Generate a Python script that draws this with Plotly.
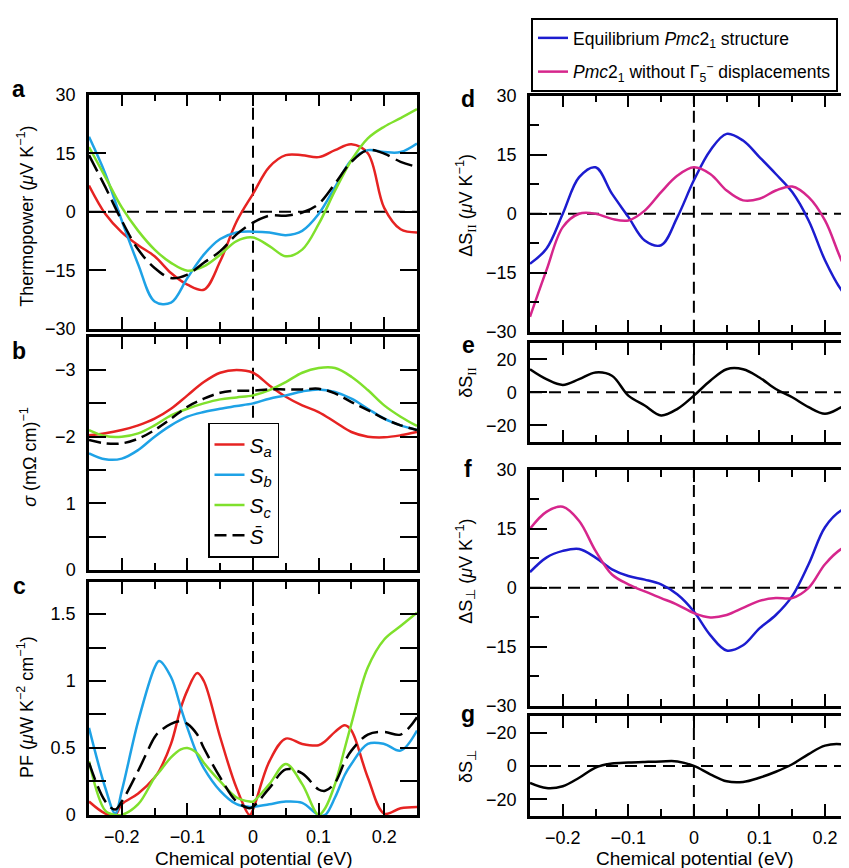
import plotly.graph_objects as go

# ---------------- data ----------------
mu = [-0.25, -0.225, -0.2, -0.175, -0.15, -0.125, -0.1, -0.075, -0.05, -0.025, 0.0,
      0.025, 0.05, 0.075, 0.1, 0.125, 0.15, 0.175, 0.2, 0.225, 0.25]

S_a = [6.7, -0.6, -5.3, -8.6, -11.4, -15.7, -18.7, -20.0, -12.7, -2.5, 4.6,
       11.5, 14.5, 14.5, 14.0, 15.8, 17.3, 15.0, 1.0, -4.5, -5.3]
S_b = [19.2, 9.7, -2.3, -13.5, -23.0, -23.3, -17.0, -11.0, -7.0, -5.3, -5.1,
       -5.3, -6.0, -4.9, -0.6, 6.3, 13.2, 15.8, 15.3, 15.3, 17.5]
S_c = [16.6, 8.9, 1.1, -4.9, -9.7, -13.1, -15.1, -14.0, -11.0, -7.5, -6.6,
       -8.8, -11.4, -9.7, -3.2, 5.4, 13.2, 18.8, 21.8, 24.0, 26.3]
S_avg = [14.5, 6.3, -2.3, -9.7, -14.4, -17.0, -16.1, -13.1, -10.1, -5.8, -2.8,
         -1.0, -1.0, -0.2, 2.0, 7.2, 12.8, 15.8, 14.9, 12.8, 11.5]

sig_a = [2.02, 2.05, 2.10, 2.17, 2.27, 2.42, 2.62, 2.82, 2.96, 3.00, 2.96,
         2.77, 2.60, 2.47, 2.37, 2.22, 2.07, 2.00, 1.99, 2.02, 2.07]
sig_b = [1.75, 1.66, 1.67, 1.80, 2.00, 2.17, 2.30, 2.37, 2.42, 2.46, 2.50,
         2.57, 2.62, 2.68, 2.71, 2.67, 2.57, 2.42, 2.27, 2.17, 2.10]
sig_c = [2.10, 2.01, 2.00, 2.05, 2.17, 2.32, 2.42, 2.50, 2.56, 2.59, 2.62,
         2.70, 2.82, 2.96, 3.03, 3.03, 2.90, 2.70, 2.47, 2.30, 2.16]
sig_avg = [1.95, 1.90, 1.90, 1.97, 2.10, 2.27, 2.45, 2.57, 2.66, 2.69, 2.69,
           2.71, 2.71, 2.71, 2.72, 2.65, 2.52, 2.40, 2.27, 2.17, 2.10]

mu_c = [-0.25, -0.225, -0.21, -0.2, -0.175, -0.15, -0.143, -0.125, -0.11, -0.1, -0.085,
        -0.075, -0.05, -0.025, -0.005, 0.0, 0.025, 0.05, 0.075, 0.1, 0.11, 0.125,
        0.14, 0.15, 0.175, 0.2, 0.225, 0.25]
PF_a = [0.10, 0.01, 0.0, 0.08, 0.16, 0.28, 0.33, 0.53, 0.80, 0.93, 1.06,
        1.00, 0.58, 0.20, 0.0, 0.04, 0.40, 0.57, 0.53, 0.52, 0.55, 0.62,
        0.67, 0.63, 0.28, 0.01, 0.05, 0.06]
PF_b = [0.65, 0.20, 0.01, 0.18, 0.70, 1.10, 1.15, 1.03, 0.80, 0.65, 0.45,
        0.35, 0.18, 0.08, 0.06, 0.06, 0.08, 0.10, 0.09, 0.0, 0.0, 0.13,
        0.30, 0.38, 0.53, 0.53, 0.48, 0.63]
PF_c = [0.40, 0.03, 0.0, 0.0, 0.08, 0.28, 0.32, 0.43, 0.49, 0.50, 0.46,
        0.39, 0.25, 0.13, 0.10, 0.10, 0.23, 0.38, 0.23, 0.0, 0.05, 0.23,
        0.50, 0.68, 1.10, 1.31, 1.41, 1.51]
PF_avg = [0.39, 0.10, 0.04, 0.10, 0.33, 0.58, 0.62, 0.68, 0.70, 0.68, 0.60,
          0.50, 0.28, 0.10, 0.05, 0.06, 0.20, 0.34, 0.31, 0.19, 0.18, 0.24,
          0.40, 0.48, 0.60, 0.62, 0.60, 0.73]

dSpar_eq = [-12.7, -8.9, 0.0, 9.3, 11.8, 5.1, -0.8, -6.8, -8.0, -0.8, 8.5,
            16.1, 20.3, 18.6, 14.4, 10.1, 5.5, -1.7, -11.8, -19.4, -24.0]
dSpar_no = [-26.2, -14.4, -3.4, 0.0, 0.0, -1.3, -1.7, 0.8, 5.5, 9.7, 11.8,
            10.1, 5.9, 3.4, 3.8, 5.9, 6.9, 4.2, -1.7, -11.8, -20.0]
dpar = [14, 8, 4.5, 8, 12, 10, -2, -8, -14, -10, -2,
        7, 14, 14, 9, 2, -3, -9, -13, -9, -4]
dSperp_eq = [4.0, 7.7, 9.4, 9.9, 7.7, 4.7, 3.0, 2.1, 0.9, -1.7, -6.0,
             -12.0, -15.9, -14.6, -10.3, -6.9, -2.1, 6.0, 15.4, 19.7, 21.0]
dSperp_no = [15.0, 19.3, 20.6, 17.0, 9.4, 3.4, 0.9, -0.9, -2.6, -4.3, -6.4,
             -7.5, -6.9, -5.1, -3.3, -2.6, -2.6, 0.0, 6.0, 9.9, 11.5]
dperp = [-10.2, -13.3, -12.2, -7.1, -1.0, 1.4, 2.0, 2.4, 2.7, 2.7, 0.0,
         -5.0, -9.2, -9.6, -7.1, -3.5, 1.0, 7.1, 12.2, 13.0, 10.0]

left_names = ["<i>S</i><sub><i>a</i></sub>", "<i>S</i><sub><i>b</i></sub>",
              "<i>S</i><sub><i>c</i></sub>", "<i>S̄</i>"]
right_names = ["Equilibrium <i>Pmc</i>2<sub>1</sub> structure",
               "<i>Pmc</i>2<sub>1</sub> without Γ<sub>5</sub><sup>−</sup> displacements"]

# ---------------- style ----------------
RED, SKY, GREEN, BLK = "#e62322", "#1ea2e6", "#7fe02c", "black"
BLUE, MAG = "#1c1ccf", "#d6268c"
FONT = "Liberation Sans, Arial, sans-serif"
# figure placed by the page at an 8 px body margin
OX, OY = 8, 8
W, H = 849 - 2 * OX, 870
# measured mapping of page rows to picture rows: pic = VS * page + VO
VS, VO = 0.9767, 9.5

def fx(x):
    return min(max((x + 1 - OX) / W, 0.0), 1.0)

def fy(y):
    yf = (y - VO) / VS - OY
    return min(max(1 - yf / H, 0.0), 1.0)

fig = go.Figure()

def px_x(a, b):
    return [fx(a), fx(b)]

def px_y(top, bot):
    return [fy(bot), fy(top)]

X_END = (849 - OX - 1 - 693) / 655  # visible right end of the right column (eV)

panels = {
    "a": (1, px_x(88, 416), px_y(94, 328)),
    "b": (2, px_x(88, 416), px_y(336, 569)),
    "c": (3, px_x(88, 416), px_y(581, 814)),
    "d": (4, px_x(529, 849), px_y(95, 331)),
    "e": (5, px_x(529, 849), px_y(342, 441)),
    "f": (6, px_x(529, 849), px_y(469, 705)),
    "g": (7, px_x(529, 849), px_y(715, 815)),
}

def ax(i):
    return ("x" if i == 1 else f"x{i}"), ("y" if i == 1 else f"y{i}")

def add(i, x, y, color, name, dash=None, legend=None, show=False, group=None):
    xa, ya = ax(i)
    fig.add_trace(go.Scatter(
        x=x, y=y, mode="lines", name=name, xaxis=xa, yaxis=ya,
        line=dict(color=color, width=2.5, shape="spline", smoothing=1.0,
                  dash=dash or "solid"),
        showlegend=show, legend=legend or "legend", legendgroup=group))

DASHS = "18px,7px"
add(1, mu, S_a, RED, left_names[0])
add(1, mu, S_b, SKY, left_names[1])
add(1, mu, S_c, GREEN, left_names[2])
add(1, mu, S_avg, BLK, left_names[3], dash=DASHS)
add(2, mu, sig_a, RED, left_names[0], show=True)
add(2, mu, sig_b, SKY, left_names[1], show=True)
add(2, mu, sig_c, GREEN, left_names[2], show=True)
add(2, mu, sig_avg, BLK, left_names[3], dash="12px,6px", show=True)
add(3, mu_c, PF_a, RED, left_names[0])
add(3, mu_c, PF_b, SKY, left_names[1])
add(3, mu_c, PF_c, GREEN, left_names[2])
add(3, mu_c, PF_avg, BLK, left_names[3], dash=DASHS)
add(4, mu, dSpar_eq, BLUE, right_names[0], legend="legend2", show=True, group="eq")
add(4, mu, dSpar_no, MAG, right_names[1], legend="legend2", show=True, group="no")
add(5, mu, dpar, BLK, "δS∥")
add(6, mu, dSperp_eq, BLUE, right_names[0])
add(6, mu, dSperp_no, MAG, right_names[1])
add(7, mu, dperp, BLK, "δS⊥")

tickfont = dict(family=FONT, size=18, color="black")

def minor_y(d):
    return dict(dtick=d, tick0=0, ticklen=17, tickwidth=2, ticks="inside", tickcolor="black")

yconf = {
    "a": dict(range=[-30, 30], tickvals=[-30, -15, 0, 15, 30]),
    "b": dict(range=[0, 3.5], tickvals=[0, 1, 2, 3], ticktext=["0", "1", "−2", "−3"],
              minor=minor_y(0.5)),
    "c": dict(range=[0, 1.74], tickvals=[0, 0.5, 1, 1.5], ticktext=["0", "0.5", "1", "1.5"],
              minor=minor_y(0.25)),
    "d": dict(range=[-30, 30], tickvals=[-30, -15, 0, 15, 30],
              minor=dict(dtick=7.5, tick0=0, ticklen=9, tickwidth=2, ticks="inside", tickcolor="black")),
    "e": dict(range=[-30, 30], tickvals=[-20, 0, 20]),
    "f": dict(range=[-30, 30], tickvals=[-30, -15, 0, 15, 30],
              minor=dict(dtick=7.5, tick0=0, ticklen=9, tickwidth=2, ticks="inside", tickcolor="black")),
    "g": dict(range=[-30, 30], tickvals=[-20, 0, 20], ticktext=["−20", "0", "−20"]),
}

layout = {}
for key, (i, xd, yd) in panels.items():
    xa, ya = ax(i)
    right = key in "defg"
    xname = "xaxis" if i == 1 else f"xaxis{i}"
    yname = "yaxis" if i == 1 else f"yaxis{i}"
    layout[xname] = dict(
        domain=xd, anchor=ya, range=[-0.25, X_END] if right else [-0.25, 0.25],
        tickvals=[-0.2, -0.1, 0, 0.1, 0.2], ticktext=["−0.2", "−0.1", "0", "0.1", "0.2"],
        ticks="inside", ticklen=12, tickwidth=2, tickcolor="black",
        minor=dict(tickvals=[-0.15, -0.05, 0.05, 0.15], ticklen=7, tickwidth=2,
                   ticks="inside", tickcolor="black"),
        showline=True, linecolor="black", linewidth=2.5, mirror="allticks",
        showgrid=False, zeroline=False, tickfont=tickfont,
        showticklabels=key in ("c", "g"), ticklabelstandoff=4, fixedrange=True)
    yc = dict(
        domain=yd, anchor=xa, ticks="inside", ticklen=17, tickwidth=2, tickcolor="black",
        showline=True, linecolor="black", linewidth=2.5,
        mirror=False if right else "allticks",
        showgrid=False, zeroline=False, tickfont=tickfont, ticklabelstandoff=7,
        fixedrange=True)
    yc.update(yconf[key])
    layout[yname] = yc

fig.update_layout(**layout)

shapes = []
for key, (i, xd, yd) in panels.items():
    xa, ya = ax(i)
    shapes.append(dict(type="line", xref=xa, yref=f"{ya} domain", x0=0, x1=0, y0=0, y1=1,
                       line=dict(color="black", width=2, dash="12px,7px"), layer="below"))
    if key in "adefg":
        shapes.append(dict(type="line", xref=f"{xa} domain", yref=ya, x0=0, x1=1, y0=0, y1=0,
                           line=dict(color="black", width=2, dash="12px,7px"), layer="below"))

ann = []
def txt(x, y, text, size=18, angle=0, xanchor="center", yanchor="middle"):
    ann.append(dict(x=fx(x), y=fy(y), xref="paper", yref="paper", text=text,
                    showarrow=False, textangle=angle, xanchor=xanchor, yanchor=yanchor,
                    font=dict(family=FONT, size=size, color="black")))

for lab, x, y in [("a", 17, 88), ("b", 18, 350), ("c", 18, 585),
                  ("d", 467, 98), ("e", 467, 344), ("f", 467, 468), ("g", 467, 713)]:
    txt(x, y, f"<b>{lab}</b>", size=23)

PAR = "<span style='font-family:Liberation Serif'>II</span>"
txt(25, 216, "Thermopower (<i>μ</i>V K<sup>−1</sup>)", angle=-90)
txt(28, 456, "<i>σ</i> (mΩ cm)<sup>−1</sup>", angle=-90)
txt(25, 706, "PF (<i>μ</i>W K<sup>−2</sup> cm<sup>−1</sup>)", angle=-90)
txt(465, 205, f"ΔS<sub>{PAR}</sub> (<i>μ</i>V K<sup>−1</sup>)", angle=-90)
txt(467, 382, f"δS<sub>{PAR}</sub>", angle=-90)
txt(465, 571, "ΔS<sub>⊥</sub> (<i>μ</i>V K<sup>−1</sup>)", angle=-90)
txt(467, 766, "δS<sub>⊥</sub>", angle=-90)
txt(252, 858, "Chemical potential (eV)", size=19)
txt(693, 858, "Chemical potential (eV)", size=19)

fig.update_layout(
    width=W, height=H, margin=dict(l=0, r=0, t=0, b=0),
    paper_bgcolor="white", plot_bgcolor="white",
    font=dict(family=FONT, size=17, color="black"),
    shapes=shapes, annotations=ann,
    legend=dict(x=fx(207), y=fy(422), xanchor="left", yanchor="top",
                bgcolor="white", bordercolor="black", borderwidth=1.5,
                font=dict(family=FONT, size=21, color="black"),
                itemwidth=30, tracegroupgap=0, entrywidth=50, entrywidthmode="pixels"),
    legend2=dict(x=fx(530), y=1.0, xanchor="left", yanchor="top",
                 bgcolor="white", bordercolor="black", borderwidth=2,
                 font=dict(family=FONT, size=17.5, color="black"),
                 itemwidth=30, tracegroupgap=8, traceorder="grouped"),
)

fig.write_html("out.html", config={"displayModeBar": False})
